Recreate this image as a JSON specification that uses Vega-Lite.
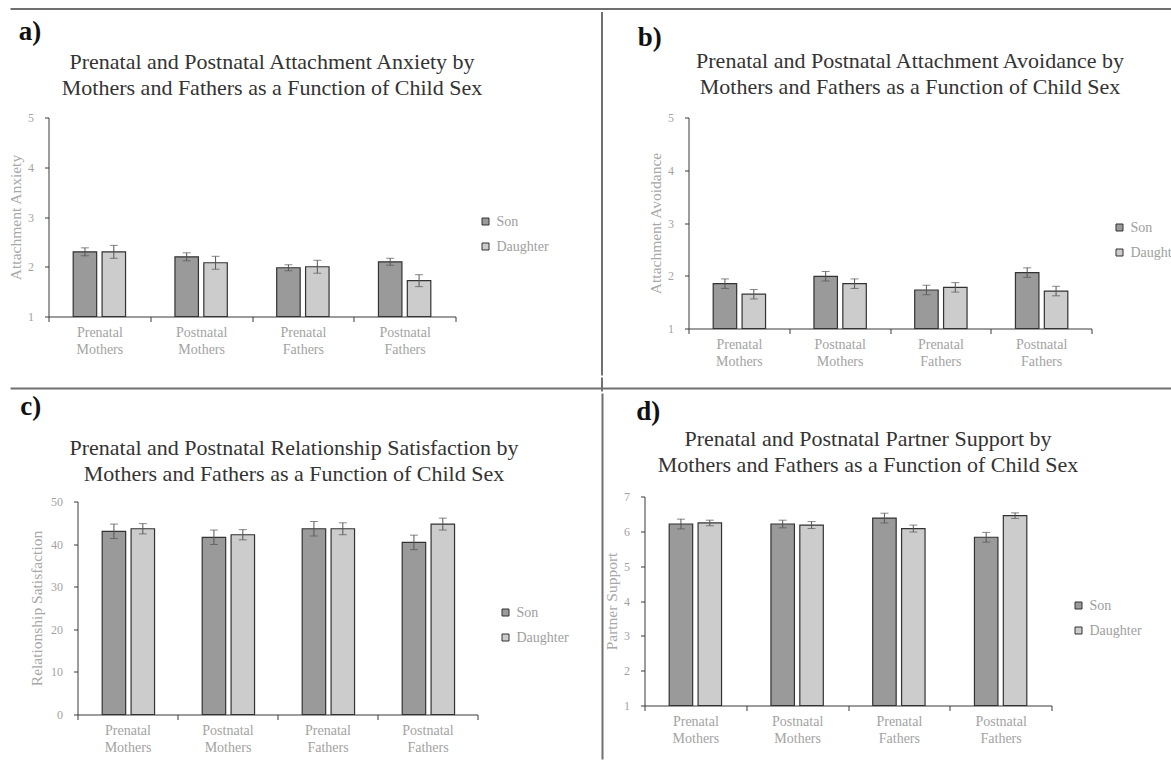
{
  "$schema": "https://vega.github.io/schema/vega-lite/v6.json",
  "background": "white",
  "padding": {"left": 7.5, "top": 7.5, "right": 0, "bottom": 0},
  "config": {
    "font": "Liberation Serif",
    "view": {"stroke": null},
    "axis": {"labelFont": "Liberation Serif", "titleFont": "Liberation Serif", "labelColor": "#a3a3a3", "titleColor": "#a8a8a8", "labelFontSize": 14, "titleFontSize": 15.5, "titleFontWeight": "normal", "domainColor": "#3a3a3a", "tickColor": "#3a3a3a", "grid": false, "labelOverlap": false},
    "axisX": {"tickBand": "extent", "tickSize": 5, "labelAngle": 0, "labelPadding": 4, "labelLineHeight": 17},
    "axisY": {"tickSize": 4, "labelPadding": 11, "titlePadding": 4.25, "labelFontSize": 12},
    "legend": {"symbolType": "square", "symbolSize": 49, "symbolStrokeColor": "#333", "symbolStrokeWidth": 1, "labelFont": "Liberation Serif", "labelFontSize": 14, "labelColor": "#9e9e9e", "rowPadding": 11, "labelOffset": 4, "orient": "none", "padding": 0},
    "title": {"font": "Liberation Serif", "fontSize": 22, "fontWeight": "normal", "color": "#333", "lineHeight": 26}
  },
  "datasets": {
    "anx": [
      {"group": "Prenatal Mothers", "sex": "Son", "mean": 2.30, "lo": 2.22, "hi": 2.38},
      {"group": "Prenatal Mothers", "sex": "Daughter", "mean": 2.30, "lo": 2.17, "hi": 2.43},
      {"group": "Postnatal Mothers", "sex": "Son", "mean": 2.20, "lo": 2.12, "hi": 2.28},
      {"group": "Postnatal Mothers", "sex": "Daughter", "mean": 2.08, "lo": 1.95, "hi": 2.21},
      {"group": "Prenatal Fathers", "sex": "Son", "mean": 1.98, "lo": 1.92, "hi": 2.04},
      {"group": "Prenatal Fathers", "sex": "Daughter", "mean": 2.00, "lo": 1.87, "hi": 2.13},
      {"group": "Postnatal Fathers", "sex": "Son", "mean": 2.10, "lo": 2.03, "hi": 2.17},
      {"group": "Postnatal Fathers", "sex": "Daughter", "mean": 1.72, "lo": 1.60, "hi": 1.84}
    ],
    "avo": [
      {"group": "Prenatal Mothers", "sex": "Son", "mean": 1.85, "lo": 1.76, "hi": 1.94},
      {"group": "Prenatal Mothers", "sex": "Daughter", "mean": 1.65, "lo": 1.56, "hi": 1.74},
      {"group": "Postnatal Mothers", "sex": "Son", "mean": 1.99, "lo": 1.90, "hi": 2.08},
      {"group": "Postnatal Mothers", "sex": "Daughter", "mean": 1.85, "lo": 1.76, "hi": 1.94},
      {"group": "Prenatal Fathers", "sex": "Son", "mean": 1.73, "lo": 1.64, "hi": 1.82},
      {"group": "Prenatal Fathers", "sex": "Daughter", "mean": 1.78, "lo": 1.69, "hi": 1.87},
      {"group": "Postnatal Fathers", "sex": "Son", "mean": 2.06, "lo": 1.97, "hi": 2.15},
      {"group": "Postnatal Fathers", "sex": "Daughter", "mean": 1.71, "lo": 1.62, "hi": 1.80}
    ],
    "sat": [
      {"group": "Prenatal Mothers", "sex": "Son", "mean": 43.0, "lo": 41.3, "hi": 44.7},
      {"group": "Prenatal Mothers", "sex": "Daughter", "mean": 43.6, "lo": 42.4, "hi": 44.8},
      {"group": "Postnatal Mothers", "sex": "Son", "mean": 41.6, "lo": 39.9, "hi": 43.3},
      {"group": "Postnatal Mothers", "sex": "Daughter", "mean": 42.2, "lo": 41.0, "hi": 43.4},
      {"group": "Prenatal Fathers", "sex": "Son", "mean": 43.6, "lo": 41.9, "hi": 45.3},
      {"group": "Prenatal Fathers", "sex": "Daughter", "mean": 43.6, "lo": 42.2, "hi": 45.0},
      {"group": "Postnatal Fathers", "sex": "Son", "mean": 40.4, "lo": 38.7, "hi": 42.1},
      {"group": "Postnatal Fathers", "sex": "Daughter", "mean": 44.7, "lo": 43.3, "hi": 46.1}
    ],
    "sup": [
      {"group": "Prenatal Mothers", "sex": "Son", "mean": 6.21, "lo": 6.07, "hi": 6.35},
      {"group": "Prenatal Mothers", "sex": "Daughter", "mean": 6.24, "lo": 6.16, "hi": 6.32},
      {"group": "Postnatal Mothers", "sex": "Son", "mean": 6.21, "lo": 6.10, "hi": 6.32},
      {"group": "Postnatal Mothers", "sex": "Daughter", "mean": 6.18, "lo": 6.08, "hi": 6.28},
      {"group": "Prenatal Fathers", "sex": "Son", "mean": 6.38, "lo": 6.24, "hi": 6.52},
      {"group": "Prenatal Fathers", "sex": "Daughter", "mean": 6.08, "lo": 5.98, "hi": 6.18},
      {"group": "Postnatal Fathers", "sex": "Son", "mean": 5.83, "lo": 5.69, "hi": 5.97},
      {"group": "Postnatal Fathers", "sex": "Daughter", "mean": 6.45, "lo": 6.37, "hi": 6.53}
    ]
  },
  "resolve": {"scale": {"color": "independent"}, "legend": {"color": "independent"}},
  "spacing": 0,
  "vconcat": [
    {
      "width": 1123, "height": 1,
      "data": {"values": [{}]},
      "mark": {"type": "rule", "color": "#707070", "strokeWidth": 2},
      "encoding": {
        "x": {"datum": -0.0338, "type": "quantitative", "scale": {"domain": [0, 1], "nice": false, "zero": false}, "axis": null},
        "x2": {"datum": 1},
        "y": {"datum": 0.5, "type": "quantitative", "scale": {"domain": [0, 1], "nice": false, "zero": false}, "axis": null}
      }
    },
    {
      "spacing": 20,
      "resolve": {"scale": {"color": "independent"}, "legend": {"color": "independent"}},
      "hconcat": [
        {
          "title": {"text": "a)", "anchor": "start", "fontSize": 27, "fontWeight": "bold", "color": "#111", "offset": 5, "dx": 10.5},
          "resolve": {"scale": {"color": "independent"}, "legend": {"color": "independent"}},
          "vconcat": [
            {
              "title": {"text": ["Prenatal and Postnatal Attachment Anxiety by", "Mothers and Fathers as a Function of Child Sex"], "anchor": "middle", "frame": "group", "dx": 20, "offset": 12},
              "width": 407, "height": 199,
              "data": {"name": "anx"},
              "encoding": {
                "x": {"field": "group", "type": "nominal", "sort": ["Prenatal Mothers", "Postnatal Mothers", "Prenatal Fathers", "Postnatal Fathers"], "title": null, "scale": {"paddingInner": 0, "paddingOuter": 0}, "axis": {"labelExpr": "split(datum.label, ' ')"}},
                "xOffset": {"field": "sex", "type": "nominal", "sort": ["Son", "Daughter"], "scale": {"paddingInner": 0.187, "paddingOuter": 0.855}}
              },
              "layer": [
                {"mark": {"type": "bar", "stroke": "#333", "strokeWidth": 1.2},
                 "encoding": {
                   "y": {"field": "mean", "type": "quantitative", "title": "Attachment Anxiety", "scale": {"domain": [1, 5], "nice": false, "zero": false}, "axis": {"values": [1, 2, 3, 4, 5], "format": "d"}},
                   "y2": {"datum": 1},
                   "color": {"field": "sex", "type": "nominal", "title": null, "scale": {"domain": ["Son", "Daughter"], "range": ["#9a9a9a", "#cccccc"]}, "legend": {"legendX": 430, "legendY": 97}}
                 }},
                {"mark": {"type": "rule", "color": "#555", "strokeWidth": 1},
                 "encoding": {"y": {"field": "lo", "type": "quantitative", "title": "Attachment Anxiety", "axis": {"values": [1, 2, 3, 4, 5], "format": "d"}}, "y2": {"field": "hi"}}},
                {"mark": {"type": "tick", "color": "#555", "size": 8, "thickness": 1},
                 "encoding": {"y": {"field": "lo", "type": "quantitative", "title": "Attachment Anxiety", "axis": {"values": [1, 2, 3, 4, 5], "format": "d"}}}},
                {"mark": {"type": "tick", "color": "#555", "size": 8, "thickness": 1},
                 "encoding": {"y": {"field": "hi", "type": "quantitative", "title": "Attachment Anxiety", "axis": {"values": [1, 2, 3, 4, 5], "format": "d"}}}}
              ]
            }
          ]
        },
        {
          "width": 48, "height": 211,
          "data": {"values": [{}]},
          "mark": {"type": "rule", "color": "#707070", "strokeWidth": 2},
          "encoding": {
            "x": {"datum": 0.677, "type": "quantitative", "scale": {"domain": [0, 1], "nice": false, "zero": false}, "axis": null},
            "y": {"datum": 1.5, "type": "quantitative", "scale": {"domain": [0, 1], "nice": false, "zero": false}, "axis": null},
            "y2": {"datum": -0.2227}
          }
        },
        {
          "title": {"text": "b)", "anchor": "start", "fontSize": 27, "fontWeight": "bold", "color": "#111", "offset": -2, "dx": -10.5},
          "resolve": {"scale": {"color": "independent"}, "legend": {"color": "independent"}},
          "vconcat": [
            {
              "title": {"text": ["Prenatal and Postnatal Attachment Avoidance by", "Mothers and Fathers as a Function of Child Sex"], "anchor": "middle", "frame": "group", "dx": 20, "offset": 13},
              "width": 403, "height": 211,
              "data": {"name": "avo"},
              "encoding": {
                "x": {"field": "group", "type": "nominal", "sort": ["Prenatal Mothers", "Postnatal Mothers", "Prenatal Fathers", "Postnatal Fathers"], "title": null, "scale": {"paddingInner": 0, "paddingOuter": 0}, "axis": {"labelExpr": "split(datum.label, ' ')"}},
                "xOffset": {"field": "sex", "type": "nominal", "sort": ["Son", "Daughter"], "scale": {"paddingInner": 0.187, "paddingOuter": 0.855}}
              },
              "layer": [
                {"mark": {"type": "bar", "stroke": "#333", "strokeWidth": 1.2},
                 "encoding": {
                   "y": {"field": "mean", "type": "quantitative", "title": "Attachment Avoidance", "scale": {"domain": [1, 5], "nice": false, "zero": false}, "axis": {"values": [1, 2, 3, 4, 5], "format": "d"}},
                   "y2": {"datum": 1},
                   "color": {"field": "sex", "type": "nominal", "title": null, "scale": {"domain": ["Son", "Daughter"], "range": ["#9a9a9a", "#cccccc"]}, "legend": {"legendX": 424, "legendY": 103}}
                 }},
                {"mark": {"type": "rule", "color": "#555", "strokeWidth": 1},
                 "encoding": {"y": {"field": "lo", "type": "quantitative", "title": "Attachment Avoidance", "axis": {"values": [1, 2, 3, 4, 5], "format": "d"}}, "y2": {"field": "hi"}}},
                {"mark": {"type": "tick", "color": "#555", "size": 8, "thickness": 1},
                 "encoding": {"y": {"field": "lo", "type": "quantitative", "title": "Attachment Avoidance", "axis": {"values": [1, 2, 3, 4, 5], "format": "d"}}}},
                {"mark": {"type": "tick", "color": "#555", "size": 8, "thickness": 1},
                 "encoding": {"y": {"field": "hi", "type": "quantitative", "title": "Attachment Avoidance", "axis": {"values": [1, 2, 3, 4, 5], "format": "d"}}}}
              ]
            }
          ]
        }
      ]
    },
    {
      "width": 1123, "height": 14,
      "data": {"values": [{}]},
      "layer": [
        {"mark": {"type": "rule", "color": "#707070", "strokeWidth": 2},
         "encoding": {
           "x": {"datum": -0.0338, "type": "quantitative", "scale": {"domain": [0, 1], "nice": false, "zero": false}, "axis": null},
           "x2": {"datum": 1},
           "y": {"datum": 0.214, "type": "quantitative", "scale": {"domain": [0, 1], "nice": false, "zero": false}, "axis": null}
         }},
        {"mark": {"type": "rule", "color": "#707070", "strokeWidth": 2},
         "encoding": {
           "x": {"datum": 0.4929, "type": "quantitative", "axis": null},
           "y": {"datum": 1, "type": "quantitative", "axis": null},
           "y2": {"datum": 0}
         }}
      ]
    },
    {
      "spacing": 0,
      "resolve": {"scale": {"color": "independent"}, "legend": {"color": "independent"}},
      "hconcat": [
        {
          "title": {"text": "c)", "anchor": "start", "fontSize": 27, "fontWeight": "bold", "color": "#111", "offset": 16, "dx": -9},
          "resolve": {"scale": {"color": "independent"}, "legend": {"color": "independent"}},
          "vconcat": [
            {
              "title": {"text": ["Prenatal and Postnatal Relationship Satisfaction by", "Mothers and Fathers as a Function of Child Sex"], "anchor": "middle", "frame": "group", "dx": 31, "offset": 10},
              "width": 429, "height": 218,
              "data": {"name": "sat"},
              "encoding": {
                "x": {"field": "group", "type": "nominal", "sort": ["Prenatal Mothers", "Postnatal Mothers", "Prenatal Fathers", "Postnatal Fathers"], "title": null, "scale": {"paddingInner": 0, "paddingOuter": 0, "range": [29, 429]}, "axis": {"labelExpr": "split(datum.label, ' ')"}},
                "xOffset": {"field": "sex", "type": "nominal", "sort": ["Son", "Daughter"], "scale": {"paddingInner": 0.187, "paddingOuter": 0.855}}
              },
              "layer": [
                {"mark": {"type": "bar", "stroke": "#333", "strokeWidth": 1.2},
                 "encoding": {
                   "y": {"field": "mean", "type": "quantitative", "title": "Relationship Satisfaction", "scale": {"domain": [0, 50], "nice": false, "range": [218, 5]}, "axis": {"values": [0, 10, 20, 30, 40, 50], "format": "d", "offset": -29, "titlePadding": 6.25}},
                   "y2": {"datum": 0},
                   "color": {"field": "sex", "type": "nominal", "title": null, "scale": {"domain": ["Son", "Daughter"], "range": ["#9a9a9a", "#cccccc"]}, "legend": {"legendX": 450, "legendY": 109}}
                 }},
                {"mark": {"type": "rule", "color": "#555", "strokeWidth": 1},
                 "encoding": {"y": {"field": "lo", "type": "quantitative", "title": "Relationship Satisfaction", "axis": {"values": [0, 10, 20, 30, 40, 50], "format": "d", "offset": -29, "titlePadding": 6.25}}, "y2": {"field": "hi"}}},
                {"mark": {"type": "tick", "color": "#555", "size": 8, "thickness": 1},
                 "encoding": {"y": {"field": "lo", "type": "quantitative", "title": "Relationship Satisfaction", "axis": {"values": [0, 10, 20, 30, 40, 50], "format": "d", "offset": -29, "titlePadding": 6.25}}}},
                {"mark": {"type": "tick", "color": "#555", "size": 8, "thickness": 1},
                 "encoding": {"y": {"field": "hi", "type": "quantitative", "title": "Relationship Satisfaction", "axis": {"values": [0, 10, 20, 30, 40, 50], "format": "d", "offset": -29, "titlePadding": 6.25}}}}
              ]
            }
          ]
        },
        {
          "width": 33, "height": 263,
          "data": {"values": [{}]},
          "mark": {"type": "rule", "color": "#707070", "strokeWidth": 2},
          "encoding": {
            "x": {"datum": 1.0, "type": "quantitative", "scale": {"domain": [0, 1], "nice": false, "zero": false}, "axis": null},
            "y": {"datum": 1.3916, "type": "quantitative", "scale": {"domain": [0, 1], "nice": false, "zero": false}, "axis": null},
            "y2": {"datum": 0}
          }
        },
        {
          "title": {"text": "d)", "anchor": "start", "fontSize": 27, "fontWeight": "bold", "color": "#111", "offset": 2, "dx": 32},
          "resolve": {"scale": {"color": "independent"}, "legend": {"color": "independent"}},
          "vconcat": [
            {
              "title": {"text": ["Prenatal and Postnatal Partner Support by", "Mothers and Fathers as a Function of Child Sex"], "anchor": "middle", "frame": "group", "dx": 20, "offset": 14},
              "width": 407, "height": 209,
              "data": {"name": "sup"},
              "encoding": {
                "x": {"field": "group", "type": "nominal", "sort": ["Prenatal Mothers", "Postnatal Mothers", "Prenatal Fathers", "Postnatal Fathers"], "title": null, "scale": {"paddingInner": 0, "paddingOuter": 0}, "axis": {"labelExpr": "split(datum.label, ' ')"}},
                "xOffset": {"field": "sex", "type": "nominal", "sort": ["Son", "Daughter"], "scale": {"paddingInner": 0.187, "paddingOuter": 0.855}}
              },
              "layer": [
                {"mark": {"type": "bar", "stroke": "#333", "strokeWidth": 1.2},
                 "encoding": {
                   "y": {"field": "mean", "type": "quantitative", "title": "Partner Support", "scale": {"domain": [1, 7], "nice": false, "zero": false}, "axis": {"values": [1, 2, 3, 4, 5, 6, 7], "format": "d"}},
                   "y2": {"datum": 1},
                   "color": {"field": "sex", "type": "nominal", "title": null, "scale": {"domain": ["Son", "Daughter"], "range": ["#9a9a9a", "#cccccc"]}, "legend": {"legendX": 427, "legendY": 102}}
                 }},
                {"mark": {"type": "rule", "color": "#555", "strokeWidth": 1},
                 "encoding": {"y": {"field": "lo", "type": "quantitative", "title": "Partner Support", "axis": {"values": [1, 2, 3, 4, 5, 6, 7], "format": "d"}}, "y2": {"field": "hi"}}},
                {"mark": {"type": "tick", "color": "#555", "size": 8, "thickness": 1},
                 "encoding": {"y": {"field": "lo", "type": "quantitative", "title": "Partner Support", "axis": {"values": [1, 2, 3, 4, 5, 6, 7], "format": "d"}}}},
                {"mark": {"type": "tick", "color": "#555", "size": 8, "thickness": 1},
                 "encoding": {"y": {"field": "hi", "type": "quantitative", "title": "Partner Support", "axis": {"values": [1, 2, 3, 4, 5, 6, 7], "format": "d"}}}}
              ]
            }
          ]
        }
      ]
    }
  ]
}
